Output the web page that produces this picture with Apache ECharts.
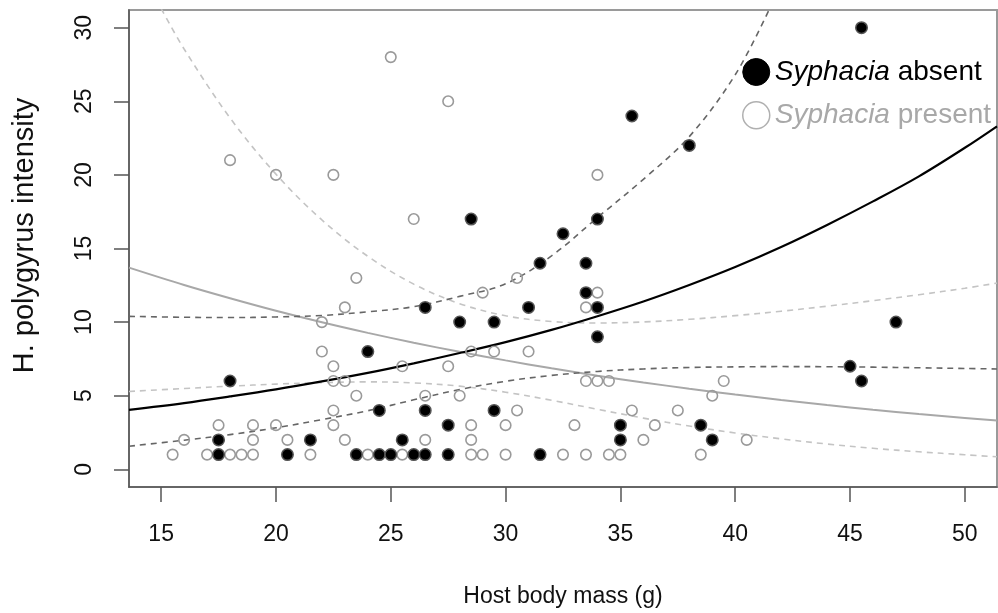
<!DOCTYPE html>
<html>
<head>
<meta charset="utf-8">
<script src="https://cdn.jsdelivr.net/npm/echarts@6/dist/echarts.min.js"></script>
<style>
  html, body { margin: 0; padding: 0; background: #fff; }
  #chart { width: 998px; height: 613px; }
</style>
</head>
<body>
<div id="chart"></div>
<script>
// Host body mass (g) and H. polygyrus counts, by Syphacia status
const absentMass  = [17.5, 17.5, 18, 20.5, 21.5, 23.5, 24, 24.5, 24.5, 25, 25.5, 26, 26.5, 26.5, 26.5, 27.5, 27.5, 28, 28.5, 29.5, 29.5, 31, 31.5, 31.5, 32.5, 33.5, 33.5, 34, 34, 34, 35, 35, 35.5, 38, 38.5, 39, 45, 45.5, 45.5, 47];
const absentCount = [2, 1, 6, 1, 2, 1, 8, 4, 1, 1, 2, 1, 11, 4, 1, 3, 1, 10, 17, 10, 4, 11, 14, 1, 16, 14, 12, 17, 11, 9, 3, 2, 24, 22, 3, 2, 7, 30, 6, 10];

const presentMass  = [15.5, 16, 17, 17.5, 18, 18, 18.5, 19, 19, 19, 20, 20, 20.5, 21.5, 22, 22, 22.5, 22.5, 22.5, 22.5, 22.5, 23, 23, 23, 23.5, 23.5, 24, 25, 25.5, 25.5, 26, 26.5, 26.5, 27.5, 27.5, 28, 28.5, 28.5, 28.5, 28.5, 29, 29, 29.5, 30, 30, 30.5, 30.5, 31, 32.5, 33, 33.5, 33.5, 33.5, 34, 34, 34, 34.5, 34.5, 35, 35.5, 36, 36.5, 37.5, 38.5, 39, 39.5, 40.5];
const presentCount = [1, 2, 1, 3, 21, 1, 1, 3, 2, 1, 20, 3, 2, 1, 10, 8, 20, 7, 6, 4, 3, 11, 6, 2, 13, 5, 1, 28, 7, 1, 17, 5, 2, 25, 7, 5, 8, 3, 2, 1, 12, 1, 8, 3, 1, 13, 4, 8, 1, 3, 11, 6, 1, 20, 12, 6, 6, 1, 1, 4, 2, 3, 4, 1, 5, 6, 2];

// Fitted intensity curves and their confidence limits
const fitMass        = [13.6, 16, 18, 20, 22, 24, 26, 28, 30, 32, 34, 36, 38, 40, 42, 44, 46, 48, 50, 51.4];
const absentFit      = [4.04, 4.5, 4.95, 5.43, 5.97, 6.55, 7.2, 7.9, 8.64, 9.47, 10.4, 11.4, 12.52, 13.74, 15.1, 16.6, 18.2, 19.9, 21.84, 23.3];
const absentLower    = [1.57, 1.98, 2.36, 2.82, 3.38, 3.98, 4.72, 5.42, 5.98, 6.38, 6.65, 6.82, 6.92, 6.96, 6.98, 6.97, 6.94, 6.9, 6.85, 6.82];
const presentFit     = [13.7, 12.52, 11.62, 10.77, 9.99, 9.27, 8.6, 7.98, 7.4, 6.86, 6.36, 5.9, 5.48, 5.08, 4.71, 4.37, 4.05, 3.76, 3.49, 3.31];
const presentLower   = [5.29, 5.49, 5.65, 5.79, 5.89, 5.94, 5.87, 5.65, 5.24, 4.69, 4.08, 3.48, 2.94, 2.47, 2.07, 1.72, 1.43, 1.19, 0.99, 0.85];

const absentUpperMass  = [13.6, 16, 18, 20, 22, 24, 26, 28, 30, 32, 34, 36, 38, 40, 41.5];
const absentUpper      = [10.39, 10.33, 10.31, 10.35, 10.45, 10.7, 11.05, 11.75, 12.6, 14.5, 17.1, 19.7, 22.6, 26.8, 31.3];
const presentUpperMass = [15, 16, 18, 20, 22, 24, 26, 28, 30, 32, 34, 36, 38, 40, 42, 44, 46, 48, 50, 51.4];
const presentUpper     = [31.3, 28.55, 23.87, 20.05, 16.94, 14.47, 12.58, 11.25, 10.43, 10.04, 9.94, 10.01, 10.19, 10.44, 10.74, 11.08, 11.46, 11.86, 12.3, 12.65];

const xTicks = [15, 20, 25, 30, 35, 40, 45, 50];
const yTicks = [0, 5, 10, 15, 20, 25, 30];

const FONT = '"Liberation Sans", Arial, Helvetica, sans-serif';
const zip = (xs, ys) => xs.map((x, i) => [x, ys[i]]);

function curve(xs, ys, color, width, dashed) {
  return {
    type: 'line',
    data: zip(xs, ys),
    smooth: 0.35,
    showSymbol: false,
    silent: true,
    clip: true,
    lineStyle: { color: color, width: width, type: dashed ? [6, 5] : 'solid', opacity: 1 },
    z: 3
  };
}

const chart = echarts.init(document.getElementById('chart'), null, { renderer: 'canvas' });

chart.setOption({
  animation: false,
  backgroundColor: '#fff',
  grid: {
    left: 129, right: 1, top: 10, bottom: 125,
    show: true, borderColor: '#9a9a9a', borderWidth: 2, backgroundColor: 'transparent'
  },
  xAxis: {
    type: 'value', min: 13.6, max: 51.4,
    name: 'Host body mass (g)', nameLocation: 'middle', nameGap: 98,
    nameTextStyle: { fontFamily: FONT, fontSize: 23, color: '#111' },
    axisLine: { show: true, onZero: false, lineStyle: { color: '#555', width: 1.5 } },
    axisTick: { show: true, length: 15, customValues: xTicks, lineStyle: { color: '#555', width: 1.5 } },
    axisLabel: { customValues: xTicks, margin: 36, fontFamily: FONT, fontSize: 23, color: '#111' },
    splitLine: { show: false }
  },
  yAxis: {
    type: 'value', min: -1.2, max: 31.2,
    name: 'H. polygyrus intensity', nameLocation: 'middle', nameGap: 90, nameRotate: 90,
    nameTextStyle: { fontFamily: FONT, fontSize: 29, color: '#111', padding: [0, 0, 0, 26] },
    axisLine: { show: true, onZero: false, lineStyle: { color: '#555', width: 1.5 } },
    axisTick: { show: true, length: 15, customValues: yTicks, lineStyle: { color: '#555', width: 1.5 } },
    axisLabel: { customValues: yTicks, rotate: 90, margin: 33, fontFamily: FONT, fontSize: 23, color: '#111' },
    splitLine: { show: false }
  },
  legend: {
    orient: 'vertical', left: 737, top: 53,
    itemWidth: 27, itemHeight: 27, itemGap: 15,
    icon: 'circle',
    selectedMode: false,
    textStyle: {
      fontFamily: FONT, fontSize: 28,
      rich: { it: { fontStyle: 'italic', fontFamily: FONT, fontSize: 28 } }
    },
    formatter: function (name) {
      return name.replace('Syphacia', '{it|Syphacia}');
    },
    data: [
      { name: 'Syphacia absent', textStyle: { color: '#000' },
        itemStyle: { color: '#000', borderColor: '#000', borderWidth: 1, opacity: 1 } },
      { name: 'Syphacia present', textStyle: { color: '#a8a8a8' },
        itemStyle: { color: 'rgba(255,255,255,0)', borderColor: '#b0b0b0', borderWidth: 1.5, opacity: 1 } }
    ]
  },
  series: [
    curve(fitMass, presentLower, '#c4c4c4', 1.6, true),
    curve(presentUpperMass, presentUpper, '#c4c4c4', 1.6, true),
    curve(fitMass, presentFit, '#a8a8a8', 2, false),
    curve(fitMass, absentLower, '#666', 1.6, true),
    curve(absentUpperMass, absentUpper, '#666', 1.6, true),
    curve(fitMass, absentFit, '#000', 2.2, false),
    {
      name: 'Syphacia present',
      type: 'scatter',
      data: zip(presentMass, presentCount),
      symbol: 'circle', symbolSize: 10.5,
      itemStyle: { color: 'rgba(255,255,255,0)', borderColor: '#9a9a9a', borderWidth: 1.6, opacity: 1 },
      z: 4
    },
    {
      name: 'Syphacia absent',
      type: 'scatter',
      data: zip(absentMass, absentCount),
      symbol: 'circle', symbolSize: 11.5,
      itemStyle: { color: '#000', borderColor: '#555', borderWidth: 1.5, opacity: 1 },
      z: 5
    }
  ]
});
</script>
</body>
</html>
